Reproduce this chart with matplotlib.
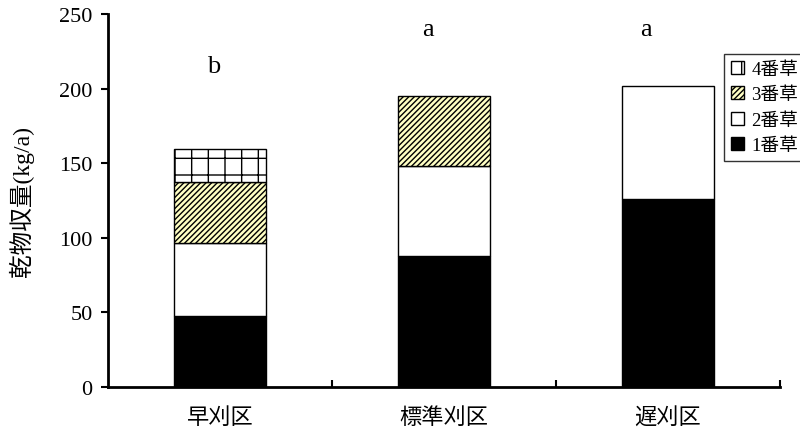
import matplotlib
matplotlib.use("Agg")
import matplotlib.pyplot as plt
import numpy as np

plt.rcParams['font.family'] = ['Liberation Serif', 'Noto Sans CJK JP']
plt.rcParams['hatch.linewidth'] = 1.0

categories = ["早刈区", "標準刈区", "遅刈区"]
cut1 = [47.5, 87.7, 125.8]
cut2 = [49.0, 60.3, 75.7]
cut3 = [40.6, 46.8, 0.0]
cut4 = [22.3, 0.0, 0.0]
letters = ["b", "a", "a"]
letter_y = [215, 240, 240]
letter_dx = [-0.03, -0.07, -0.1]
series_names = ["1番草", "2番草", "3番草", "4番草"]

fig = plt.figure(figsize=(8, 4.35), dpi=100)
ax = fig.add_axes([0.135, 0.108, 0.84, 0.8575])

x = np.arange(len(categories))
w = 0.41
bottom = np.zeros(3)
styles = [
    dict(color="black", edgecolor="black"),
    dict(color="white", edgecolor="black"),
    dict(color="#ffffc4", edgecolor="black", hatch="//////"),
    dict(color="white", edgecolor="black", hatch="+"),
]
handles = []
for vals, name, st in zip([cut1, cut2, cut3, cut4], series_names, styles):
    vals = np.array(vals)
    mask = vals > 0
    b = ax.bar(x[mask], vals[mask], w, bottom=bottom[mask], linewidth=1.0, label=name, **st)
    handles.append(b)
    bottom += vals

for xi, lt, ly, dx in zip(x, letters, letter_y, letter_dx):
    ax.text(xi + dx, ly, lt, ha="center", va="center", fontsize=19)

ax.set_xlim(-0.5, 2.5)
ax.set_ylim(0, 250)
ax.set_yticks(np.arange(0, 251, 50))
ax.set_xticks(x)
ax.set_xticklabels(categories, fontsize=16, family=['Noto Sans CJK JP'])
ax.set_xticks([0.5, 1.5, 2.5], minor=True)
ax.tick_params(axis="x", which="major", length=0, pad=13)
ax.tick_params(axis="x", which="minor", direction="in", length=5, width=1.5)
ax.tick_params(axis="y", direction="out", length=5, width=1.5, labelsize=16, pad=6)
ax.spines["top"].set_visible(False)
ax.spines["right"].set_visible(False)
ax.spines["left"].set_linewidth(2)
ax.spines["bottom"].set_linewidth(2)
ax.set_ylabel("乾物収量(kg/a)", fontsize=17, labelpad=18)

leg = fig.legend(handles[::-1], series_names[::-1], loc="upper left",
                 bbox_to_anchor=(724 / 800, 1 - 55 / 435), fontsize=13.5,
                 frameon=True, fancybox=False, edgecolor="black",
                 handlelength=0.7, handleheight=0.7, handletextpad=0.4,
                 labelspacing=0.45, borderpad=0.35, borderaxespad=0)
leg.get_frame().set_linewidth(1.0)

fig.savefig("out.png", dpi=100)
